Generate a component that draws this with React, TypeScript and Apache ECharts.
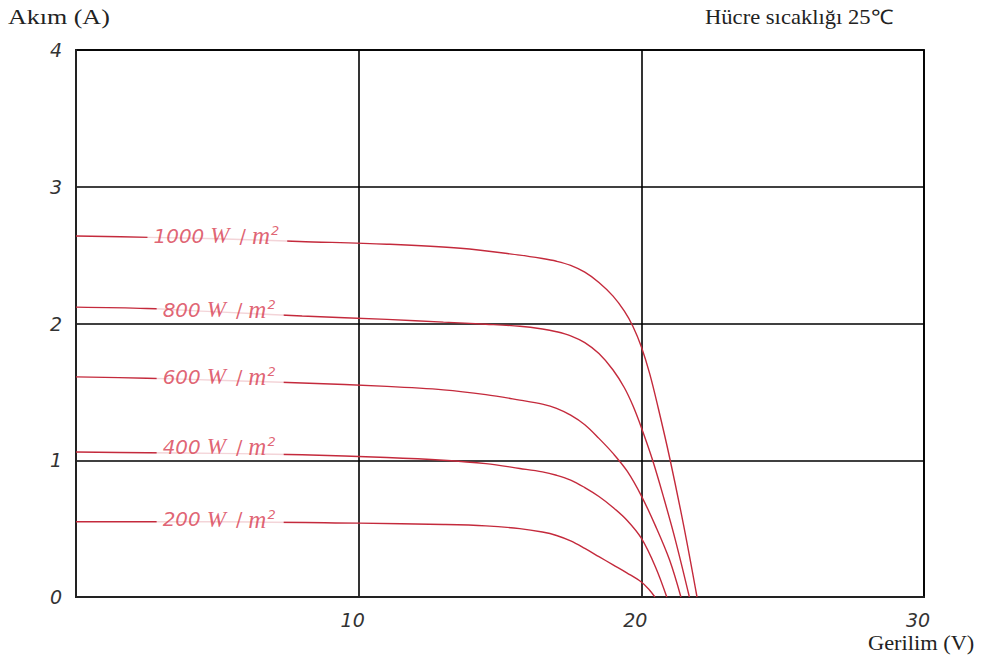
import React, { useEffect, useRef } from "react";
import * as echarts from "echarts";

// I–V characteristic of a PV module at different irradiance levels (cell temperature 25 °C)
const irradiances = ["1000", "800", "600", "400", "200"];

const v1000 = [0, 2.6, 5, 7.9, 11, 13.6, 15.7, 16.5, 17.0, 17.5, 18.0, 18.5, 19.0, 19.4, 19.7, 20.0, 20.3, 20.6, 21.0, 21.5, 21.97];
const i1000 = [2.64, 2.63, 2.62, 2.6, 2.58, 2.55, 2.5, 2.475, 2.455, 2.425, 2.375, 2.3, 2.2, 2.09, 1.98, 1.83, 1.63, 1.38, 1.02, 0.52, 0];

const v800 = [0, 2.5, 5, 8, 11, 13, 14.5, 15.7, 16.5, 17.0, 17.5, 18.0, 18.5, 19.0, 19.4, 19.7, 20.0, 20.4, 20.8, 21.2, 21.7];
const i800 = [2.12, 2.11, 2.085, 2.055, 2.03, 2.01, 1.995, 1.98, 1.96, 1.94, 1.91, 1.86, 1.78, 1.66, 1.53, 1.4, 1.24, 1.0, 0.72, 0.42, 0];

const v600 = [0, 2.5, 5, 8, 11, 13, 14.5, 15.7, 16.5, 17.0, 17.5, 18.0, 18.5, 19.0, 19.5, 20.0, 20.5, 21.0, 21.4];
const i600 = [1.61, 1.6, 1.585, 1.565, 1.54, 1.515, 1.48, 1.44, 1.41, 1.38, 1.33, 1.26, 1.16, 1.05, 0.92, 0.74, 0.52, 0.27, 0];

const v400 = [0, 2.5, 5, 8, 11, 13, 14.5, 15.7, 16.5, 17.0, 17.5, 18.0, 18.5, 19.0, 19.5, 20.0, 20.5, 20.9];
const i400 = [1.06, 1.055, 1.05, 1.04, 1.02, 1.0, 0.975, 0.94, 0.915, 0.89, 0.855, 0.8, 0.735, 0.655, 0.56, 0.43, 0.22, 0];

const v200 = [0, 5, 10, 13, 14.5, 15.7, 16.5, 17.0, 17.5, 18.0, 18.5, 19.0, 19.5, 20.0, 20.25, 20.48];
const i200 = [0.55, 0.55, 0.54, 0.53, 0.52, 0.5, 0.475, 0.45, 0.41, 0.355, 0.295, 0.235, 0.175, 0.11, 0.06, 0];

// where each irradiance tag sits on its curve
const labelVoltage = [5.0, 5.1, 5.1, 5.1, 5.1];
const labelCurrent = [2.64, 2.1, 1.61, 1.1, 0.57];

const xTicks = [0, 10, 20, 30];
const yTicks = [0, 1, 2, 3, 4];

const curveColor = "#c42a3c";
const tagColor = "#d83c50";

const zip = (xs: number[], ys: number[]) => xs.map((x, k) => [x, ys[k]]);

export default function App() {
  const ref = useRef<HTMLDivElement>(null);

  useEffect(() => {
    if (!ref.current) return;
    const chart = echarts.init(ref.current, undefined, { renderer: "svg" });

    const curves = [
      zip(v1000, i1000),
      zip(v800, i800),
      zip(v600, i600),
      zip(v400, i400),
      zip(v200, i200),
    ];

    const lineSeries = curves.map((data, k) => ({
      type: "line",
      name: irradiances[k],
      data,
      smooth: 0.35,
      showSymbol: false,
      symbol: "none",
      z: 2,
      lineStyle: { color: curveColor, width: 1.4 },
    }));

    const tagSeries = {
      type: "scatter",
      z: 10,
      symbolSize: 0,
      data: irradiances.map((name, k) => ({
        name,
        value: [labelVoltage[k], labelCurrent[k]],
      })),
      label: {
        show: true,
        position: "inside",
        backgroundColor: "#ffffff",
        padding: [0, 8, 0, 6],
        formatter: (p: any) => `{d|${p.name}}{w|W}{sl|/}{m|m}{s|2}`,
        rich: {
          d: {
            fontFamily: "DejaVu Sans",
            fontStyle: "italic",
            fontSize: 20,
            color: tagColor,
            padding: [0, 6, 0, 0],
          },
          w: {
            fontFamily: "Liberation Serif",
            fontStyle: "italic",
            fontSize: 23,
            color: tagColor,
          },
          sl: {
            fontFamily: "DejaVu Sans",
            fontSize: 19,
            color: tagColor,
            padding: [0, 6, 0, 10],
          },
          m: {
            fontFamily: "Liberation Serif",
            fontStyle: "italic",
            fontSize: 25,
            color: tagColor,
          },
          s: {
            fontFamily: "DejaVu Sans",
            fontStyle: "italic",
            fontSize: 13,
            color: tagColor,
            padding: [0, 0, 10, 1],
          },
        },
      },
    };

    chart.setOption({
      animation: false,
      backgroundColor: "#ffffff",
      grid: {
        left: 76,
        right: 63,
        top: 50,
        bottom: 69,
        show: true,
        borderColor: "#222",
        borderWidth: 2,
      },
      xAxis: {
        type: "value",
        min: xTicks[0],
        max: xTicks[xTicks.length - 1],
        interval: xTicks[1] - xTicks[0],
        axisLine: { show: true, lineStyle: { color: "#222", width: 2 } },
        axisTick: { show: false },
        splitLine: { show: true, lineStyle: { color: "#000", width: 1.6 } },
        axisLabel: {
          showMinLabel: false,
          fontFamily: "DejaVu Sans",
          fontStyle: "italic",
          fontSize: 19,
          color: "#333",
          margin: 13,
          padding: [0, 12, 0, 0],
        },
      },
      yAxis: {
        type: "value",
        min: yTicks[0],
        max: yTicks[yTicks.length - 1],
        interval: yTicks[1] - yTicks[0],
        axisLine: { show: true, lineStyle: { color: "#222", width: 2 } },
        axisTick: { show: false },
        splitLine: { show: true, lineStyle: { color: "#000", width: 1.6 } },
        axisLabel: {
          fontFamily: "DejaVu Sans",
          fontStyle: "italic",
          fontSize: 19,
          color: "#333",
          margin: 14,
          padding: [12, 0, 0, 0],
        },
      },
      graphic: [
        {
          type: "text",
          left: 8,
          top: 7,
          style: {
            text: "Akım (A)",
            font: "20px 'Liberation Serif'",
            fill: "#222",
          },
          scaleX: 1.3,
        },
        {
          type: "text",
          left: 705,
          top: 7,
          style: {
            text: "Hücre sıcaklığı 25℃",
            font: "20px 'Liberation Serif'",
            fill: "#222",
          },
          scaleX: 1.13,
        },
        {
          type: "text",
          left: 868,
          top: 633,
          style: {
            text: "Gerilim (V)",
            font: "20px 'Liberation Serif'",
            fill: "#222",
          },
          scaleX: 1.12,
        },
      ],
      series: [...lineSeries, tagSeries],
    });

    return () => chart.dispose();
  }, []);

  return (
    <div
      ref={ref}
      style={{ position: "absolute", left: 0, top: 0, width: 987, height: 666 }}
    />
  );
}
